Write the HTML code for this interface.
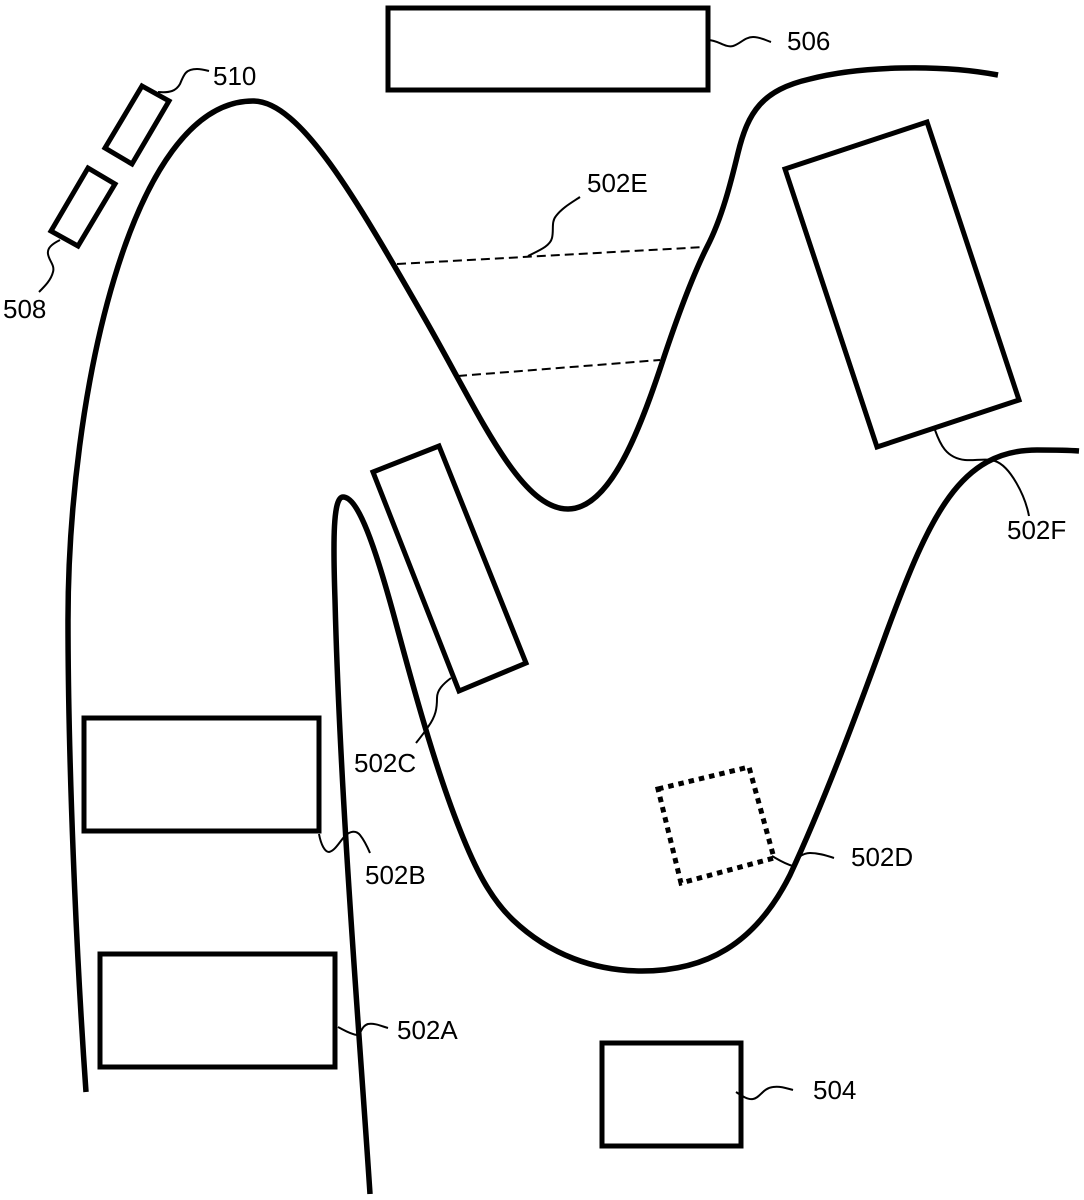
<!DOCTYPE html>
<html><head><meta charset="utf-8"><style>
html,body{margin:0;padding:0;background:#fff;width:1084px;height:1200px;overflow:hidden}
svg{display:block}
text{font-family:"Liberation Sans",sans-serif;font-size:26px;fill:#000}
.r{fill:#fff;stroke:#000;stroke-width:5}
.c{fill:none;stroke:#000;stroke-width:5.5;stroke-linecap:butt}
.l{fill:none;stroke:#000;stroke-width:2}
.d{fill:none;stroke:#000;stroke-width:2;stroke-dasharray:9 5}
</style></head><body>
<svg width="1084" height="1200" viewBox="0 0 1084 1200" xmlns="http://www.w3.org/2000/svg">
<path class="c" d="M86 1092 C76 950 68 760 68 620 C68 400 130 101 253 101 C300 101 355 197 425 319 C480 415 520 509 568 509 C610 509 640 430 663 360 C678 315 692 277 707 247 C722 218 731 182 738 153 C748 112 762 90 810 79 C860 66 940 64 998 75"/>
<path class="c" d="M370 1194 C360 1040 340 800 335 600 C333 540 333 497 343 497 C358 497 375 545 397 627 C418 705 438 775 460 830 C475 868 490 898 513 920 C550 955 595 971 642 971 C705 971 755 945 790 875 C825 800 860 705 887 631 C930 515 960 450 1037 450 C1052 450 1066 450 1079 451"/>
<path class="d" d="M397 264 L705 247"/>
<path class="d" d="M458 376 L660 360"/>
<rect class="r" x="388" y="8" width="320" height="82"/>
<polygon class="r" points="785,169 927,122 1019,400 877,447"/>
<polygon class="r" points="373,472 439,446 526,663 459,691"/>
<rect class="r" x="84" y="718" width="235" height="113"/>
<rect class="r" x="100" y="954" width="235" height="113"/>
<rect class="r" x="602" y="1043" width="139" height="103"/>
<polygon class="r" points="142,86 169,101 132,164 105,148"/>
<polygon class="r" points="88,168 115,184 78,246 51,231"/>
<polygon fill="none" stroke="#000" stroke-width="5" stroke-dasharray="5.5 5" points="658,789 749,767 774,858 681,883"/>
<path class="l" d="M708 40 C718 40 725 48 733 46 C740 44 745 37 753 37 C760 37 765 40 771 42"/>
<path class="l" d="M158 92 C170 93 176 91 180 84 C184 74 186 69 197 69 C201 69 205 70 209 71"/>
<path class="l" d="M60 240 C52 244 47 248 48 254 C49 261 55 265 53 272 C51 280 45 286 39 292"/>
<path class="l" d="M528 256 C540 250 550 246 552 238 C554 230 551 222 556 216 C562 208 571 203 580 197"/>
<path class="l" d="M935 430 C940 444 946 458 965 460 C975 461 985 458 995 461 C1010 466 1025 495 1029 516"/>
<path class="l" d="M451 678 C443 684 437 690 437 698 C437 708 436 716 428 727 C424 733 420 738 416 743"/>
<path class="l" d="M319 834 C321 845 325 852 329 852 C335 851 340 841 345 836 C350 831 356 830 360 835 C364 840 367 846 370 853"/>
<path class="l" d="M772 856 C779 860 785 864 793 866 C797 858 802 853 810 853 C818 853 825 855 834 858"/>
<path class="l" d="M338 1027 C344 1030 350 1034 357 1035 C361 1035 361 1026 368 1024 C375 1023 381 1026 388 1028"/>
<path class="l" d="M736 1092 C742 1096 748 1100 753 1099 C760 1098 763 1088 773 1087 C780 1086 786 1088 793 1090"/>
<text x="787" y="50">506</text>
<text x="213" y="85">510</text>
<text x="3" y="318">508</text>
<text x="587" y="192">502E</text>
<text x="1007" y="539">502F</text>
<text x="354" y="772">502C</text>
<text x="365" y="884">502B</text>
<text x="851" y="866">502D</text>
<text x="397" y="1039">502A</text>
<text x="813" y="1099">504</text>
</svg>
</body></html>
